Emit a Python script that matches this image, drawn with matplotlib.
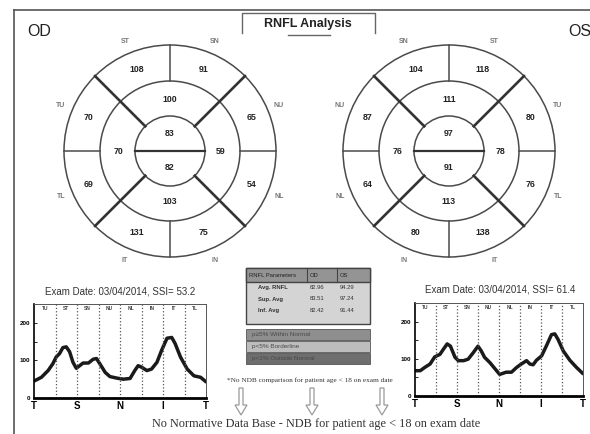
import numpy as np
import matplotlib
matplotlib.use("Agg")
import matplotlib.pyplot as plt
from matplotlib.patches import Circle, Rectangle, FancyArrow

plt.rcParams['font.family'] = ['Liberation Sans', 'DejaVu Sans']

# sector values, clockwise from upper-left outer sector
sector_angles = [112.5, 67.5, 22.5, -22.5, -67.5, -112.5, -157.5, 157.5]
od_outer_labels = ["ST", "SN", "NU", "NL", "IN", "IT", "TL", "TU"]
od_outer = [108, 91, 65, 54, 75, 131, 69, 70]
os_outer_labels = ["SN", "ST", "TU", "TL", "IT", "IN", "NL", "NU"]
os_outer = [104, 118, 80, 76, 138, 80, 64, 87]

# middle ring: top, right, bottom, left
quad_angles = [90, 0, -90, 180]
od_middle = [100, 59, 103, 70]
os_middle = [111, 78, 113, 76]

# inner circle: upper, lower
od_inner = [83, 82]
os_inner = [97, 91]

# TSNIT profiles
tsnit_labels = ["T", "S", "N", "I", "T"]
sector_names = ["TU", "ST", "SN", "NU", "NL", "IN", "IT", "TL"]
od_pos = [0, 11, 21, 28, 33, 38, 43, 48, 53, 58, 63, 68, 73, 81, 88, 93, 98, 106, 113,
          123, 133, 143, 150, 155, 160, 168, 175, 183, 190, 198, 205, 210, 218, 228,
          238, 248, 256]
od_thick = [45, 55, 73, 91, 109, 118, 134, 136, 123, 95, 79, 86, 93, 93, 103, 105, 91,
            68, 57, 53, 50, 52, 73, 86, 82, 73, 77, 95, 127, 159, 161, 145, 109, 77,
            59, 55, 43]
os_pos = [0, 8, 15, 23, 30, 38, 43, 49, 54, 61, 66, 74, 81, 89, 96, 101, 106, 114, 122,
          129, 139, 147, 155, 162, 170, 175, 180, 185, 193, 200, 208, 213, 218, 226,
          236, 246, 256]
os_thick = [68, 68, 77, 86, 105, 112, 125, 140, 134, 104, 95, 95, 99, 117, 134, 121,
            104, 90, 73, 58, 64, 64, 77, 86, 95, 86, 84, 96, 108, 134, 165, 167, 152,
            121, 96, 77, 60]

table_cols = ["RNFL Parameters", "OD", "OS"]
table_rows = ["Avg. RNFL", "Sup. Avg", "Inf. Avg"]
table_od = ["82.96", "83.51", "82.42"]
table_os = ["94.29", "97.24", "91.44"]
legend_texts = ["p\u22655% Within Normal", "p<5% Borderline", "p<1% Outside Normal"]
legend_colors = ["#8e8e8e", "#bdbdbd", "#6e6e6e"]

fig = plt.figure(figsize=(5.9, 4.34), dpi=100)
ax = fig.add_axes([0, 0, 1, 1])
ax.set_xlim(0, 590)
ax.set_ylim(434, 0)
ax.axis("off")

# frame and title tab
ax.plot([14, 590], [10, 10], color="#555555", lw=1.2)
ax.plot([14, 14], [10, 434], color="#555555", lw=1.2)
ax.plot([242, 242, 375, 375], [33, 13, 13, 33], color="#666666", lw=1)
ax.plot([288, 330], [35, 35], color="#666666", lw=1)
ax.text(308, 24, "RNFL Analysis", ha="center", va="center", fontsize=9, fontweight="bold",
        color="#222222")
ax.text(27, 32, "OD", ha="left", va="center", fontsize=11.5, color="#222222")
ax.text(591, 32, "OS", ha="right", va="center", fontsize=11.5, color="#222222")


def pt(cx, cy, r, ang):
    a = np.radians(ang)
    return cx + r * np.cos(a), cy - r * np.sin(a)


def draw_eye(cx, cy, outer, labels, middle, inner):
    r1, r2, r3 = 35, 70, 106
    for r in (r1, r2, r3):
        ax.add_patch(Circle((cx, cy), r, fill=False, ec="#4a4a4a", lw=1.1))
    for ang in (45, 135, 225, 315):
        x0, y0 = pt(cx, cy, r1, ang)
        x1, y1 = pt(cx, cy, r3, ang)
        ax.plot([x0, x1], [y0, y1], color="#333333", lw=1.9)
    for ang in (0, 90, 180, 270):
        x0, y0 = pt(cx, cy, r2, ang)
        x1, y1 = pt(cx, cy, r3, ang)
        ax.plot([x0, x1], [y0, y1], color="#4a4a4a", lw=1.1)
    ax.plot([cx - r1, cx + r1], [cy, cy], color="#333333", lw=1.6)
    for ang, v, lab in zip(sector_angles, outer, labels):
        x, y = pt(cx, cy, 88, ang)
        ax.text(x, y, str(v), ha="center", va="center", fontsize=6.3, fontweight="bold",
                color="#222222")
        x, y = pt(cx, cy, 118, ang)
        ax.text(x, y, lab, ha="center", va="center", fontsize=5, fontweight="bold",
                color="#777777")
    for ang, v in zip(quad_angles, middle):
        x, y = pt(cx, cy, 51, ang)
        ax.text(x, y, str(v), ha="center", va="center", fontsize=6.3, fontweight="bold",
                color="#222222")
    ax.text(cx, cy - 17, str(inner[0]), ha="center", va="center", fontsize=6.3,
            fontweight="bold", color="#222222")
    ax.text(cx, cy + 17, str(inner[1]), ha="center", va="center", fontsize=6.3,
            fontweight="bold", color="#222222")


draw_eye(170, 151, od_outer, od_outer_labels, od_middle, od_inner)
draw_eye(449, 151, os_outer, os_outer_labels, os_middle, os_inner)

# parameter table
ax.add_patch(Rectangle((246, 268), 124, 56, fc="#d4d4d4", ec="#444444", lw=1))
ax.add_patch(Rectangle((246, 268), 124, 14, fc="#949494", ec="#444444", lw=1))
ax.plot([307, 307], [268, 282], color="#444444", lw=0.8)
ax.plot([337, 337], [268, 282], color="#444444", lw=0.8)
ax.text(249, 275.5, table_cols[0], ha="left", va="center", fontsize=4.2, color="#222222")
ax.text(310, 275.5, table_cols[1], ha="left", va="center", fontsize=4.2, color="#222222")
ax.text(340, 275.5, table_cols[2], ha="left", va="center", fontsize=4.2, color="#222222")
for i, (r, a, b) in enumerate(zip(table_rows, table_od, table_os)):
    y = 287.5 + i * 11.5
    ax.text(258, y, r, ha="left", va="center", fontsize=4.2, fontweight="bold", color="#333333")
    ax.text(310, y, a, ha="left", va="center", fontsize=4.2, color="#333333")
    ax.text(340, y, b, ha="left", va="center", fontsize=4.2, color="#333333")

for i, (t, c) in enumerate(zip(legend_texts, legend_colors)):
    y = 329 + i * 12
    ax.add_patch(Rectangle((246, y), 124, 11, fc=c, ec="#555555", lw=0.6))
    ax.text(252, y + 5.5, t, ha="left", va="center", fontsize=4.6, color="#4a4a4a")

ax.text(310, 380, "*No NDB comparison for patient age < 18 on exam date", ha="center",
        va="center", fontsize=5.2, family=["Liberation Serif"], color="#333333")
for xa in (241, 312, 382):
    ax.add_patch(FancyArrow(xa, 388, 0, 27, width=4, head_width=12, head_length=10,
                            length_includes_head=True, fc="white", ec="#9a9a9a", lw=0.9))
ax.text(316, 424, "No Normative Data Base - NDB for patient age < 18 on exam date",
        ha="center", va="center", fontsize=8.8, family=["Liberation Serif"], color="#333333")


def draw_tsnit(rect, pos, vals, title, title_xy):
    a = fig.add_axes(rect)
    a.plot(pos, vals, color="#1a1a1a", lw=2.5, solid_capstyle="round",
           solid_joinstyle="round")
    for k in range(1, 8):
        a.axvline(32 * k, color="#555555", ls=":", lw=0.9)
    for k, s in enumerate(sector_names):
        a.text(16 + 32 * k, 238, s, ha="center", va="center", fontsize=3.5,
               fontweight="bold", color="#444444")
    a.set_xlim(0, 256)
    a.set_ylim(0, 250)
    a.set_xticks([0, 64, 128, 192, 256])
    a.set_xticklabels(tsnit_labels, fontsize=7, fontweight="bold")
    a.set_yticks([0, 100, 200])
    a.set_yticklabels(["0", "100", "200"], fontsize=4.5, fontweight="bold")
    a.set_yticks([50, 150, 250], minor=True)
    a.tick_params(axis="x", length=0, pad=2)
    a.tick_params(axis="y", which="both", length=2, width=0.6, direction="in", pad=3)
    for sp in ("top", "right"):
        a.spines[sp].set_linewidth(0.7)
        a.spines[sp].set_color("#555555")
    a.spines["left"].set_linewidth(1.2)
    a.spines["bottom"].set_linewidth(2)
    fig.text(title_xy[0] / 590, 1 - title_xy[1] / 434, title, ha="center", va="center",
             fontsize=7, color="#333333")


draw_tsnit([34 / 590, 36 / 434, 172 / 590, 94 / 434], od_pos, od_thick,
           "Exam Date: 03/04/2014, SSI= 53.2", (120, 291))
draw_tsnit([415 / 590, 38 / 434, 168 / 590, 93 / 434], os_pos, os_thick,
           "Exam Date: 03/04/2014, SSI= 61.4", (500, 290))

fig.savefig("out.png", dpi=100)
